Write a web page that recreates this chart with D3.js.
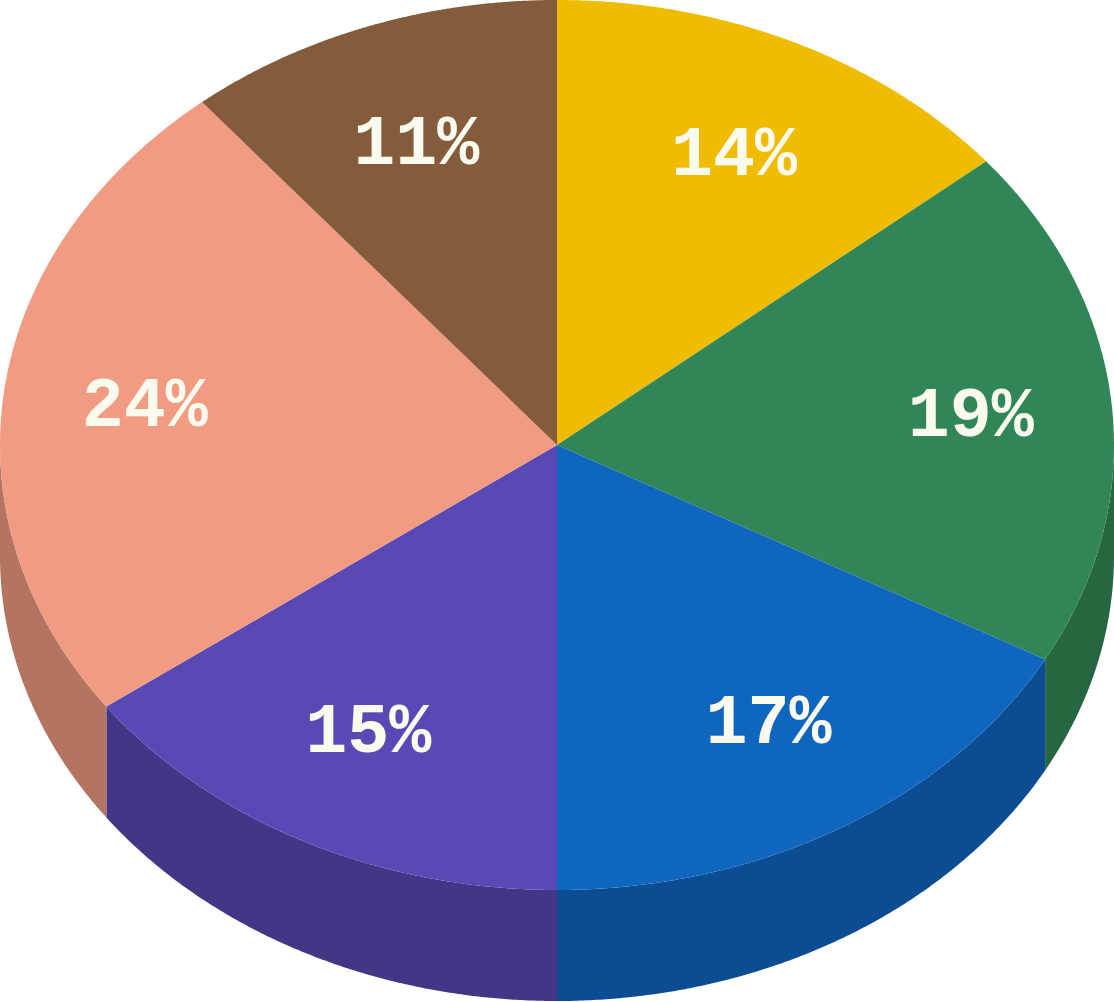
<!DOCTYPE html>
<html>
<head>
<meta charset="utf-8">
<script src="https://cdn.jsdelivr.net/npm/d3@7"></script>
<style>
html,body{margin:0;padding:0;background:#fff;overflow:hidden}
svg{display:block}
</style>
</head>
<body>
<script>
const categories = ["A","B","C","D","E","F"];
const values = [14,19,17,15,24,11];
const topColors = ["#F0BC00","#318657","#0E66BF","#5949B4","#F19B83","#855C3B"];
const sideColors = ["#B48D00","#266641","#0C4C92","#443687","#B37560","#644530"];
const labelColor = "#FBFAEE";
const width = 1114, height = 1002;

const xScale = d3.scaleLinear().domain([-1,1]).range([0,1114]);
const yScale = d3.scaleLinear().domain([-1,1]).range([0,890]);
const depth = 111;
const labelRadiusX = 0.746, labelRadiusY = 0.722;

const svg = d3.select("body").append("svg").attr("width",width).attr("height",height);
const pie = d3.pie().sort(null).value(d=>d.value);
const slices = pie(categories.map((c,i)=>({category:c,value:values[i],i})));

// Unit-circle geometry mapped onto the tilted ellipse through the scales
const ux = a => Math.sin(a), uy = a => -Math.cos(a);
const midAngle = s => (s.startAngle+s.endAngle)/2;
const wallPath = d3.area().x(a=>xScale(ux(a))).y0(a=>yScale(uy(a))).y1(a=>yScale(uy(a))+depth);
const facePath = d3.line().x(p=>xScale(p[0])).y(p=>yScale(p[1]));

// Side walls: only the front half (PI/2 .. 3PI/2) of the rim is visible
svg.append("g").selectAll("path")
  .data(slices.filter(s=>s.endAngle>Math.PI/2 && s.startAngle<3*Math.PI/2))
  .join("path")
  .attr("fill",s=>sideColors[s.data.i])
  .attr("d",s=>{
    const a0=Math.max(s.startAngle,Math.PI/2), a1=Math.min(s.endAngle,3*Math.PI/2);
    return wallPath(d3.range(0,181).map(k=>a0+(a1-a0)*k/180));
  });

// Top face
svg.append("g").selectAll("path")
  .data(slices)
  .join("path")
  .attr("fill",s=>topColors[s.data.i])
  .attr("d",s=>{
    const rim=d3.range(0,181).map(k=>{
      const a=s.startAngle+(s.endAngle-s.startAngle)*k/180;
      return [ux(a),uy(a)];
    });
    return facePath([[0,0],...rim])+"Z";
  });

// Labels
svg.append("g").selectAll("text")
  .data(slices)
  .join("text")
  .attr("x",s=>xScale(labelRadiusX*ux(midAngle(s))))
  .attr("y",s=>yScale(labelRadiusY*uy(midAngle(s))))
  .attr("text-anchor","middle")
  .attr("dy","0.30em")
  .attr("font-family","'Liberation Mono',monospace")
  .attr("font-weight","bold")
  .attr("font-size",70)
  .attr("fill",labelColor)
  .text(s=>s.data.value+"%");
</script>
</body>
</html>
